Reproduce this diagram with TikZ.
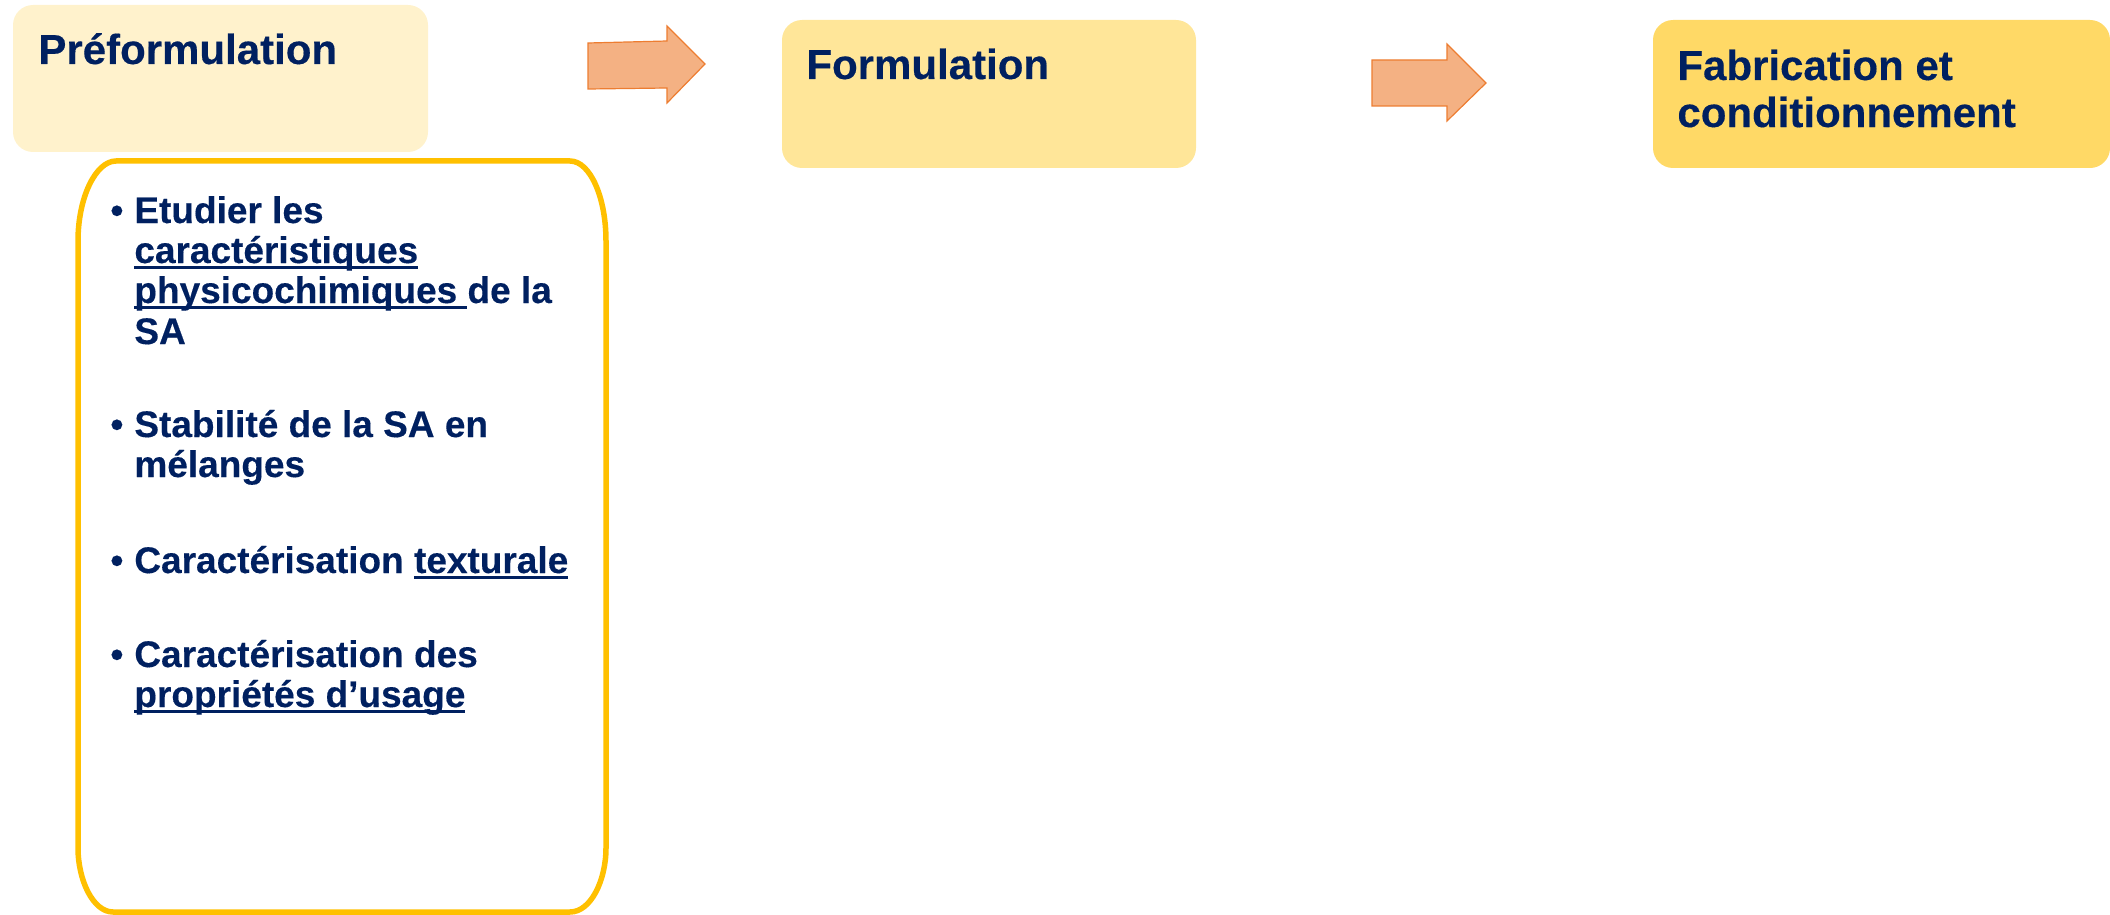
\documentclass[tikz,border=0pt]{standalone}
\usepackage{fontspec}
\setmainfont{Liberation Sans}[BoldFeatures={FakeBold=0.3}]
\definecolor{navy}{HTML}{002060}
\definecolor{boxA}{HTML}{FFF2CC}
\definecolor{boxB}{HTML}{FFE699}
\definecolor{boxC}{HTML}{FFD966}
\definecolor{frameY}{HTML}{FFC000}
\definecolor{arrowFill}{HTML}{F4B183}
\definecolor{arrowLine}{HTML}{ED7D31}
\newcommand{\ulx}[1]{{\setbox0\hbox{#1}\rlap{\rule[-0.17em]{\wd0}{0.1em}}\box0}}
\newcommand{\bul}{\llap{\textbullet\hspace{5.5pt}}}
\tikzset{
  titlebox/.style={rounded corners=10pt, draw=none},
  titletext/.style={inner sep=0pt, anchor=base west, text=navy, font=\fontsize{21}{23.5}\selectfont\bfseries, align=left},
  itemtext/.style={inner sep=0pt, anchor=base west, text=navy, font=\fontsize{18.5}{20.2}\selectfont\bfseries},
  flowarrow/.style={fill=arrowFill, draw=arrowLine, line width=0.6pt, line join=miter}
}
\begin{document}
\begin{tikzpicture}[x=0.5pt,y=-0.5pt]
\useasboundingbox (0,0) rectangle (2110,915);
% title boxes
\fill[boxA, titlebox] (13,5) rectangle (428,152);
\fill[boxB, titlebox] (782,20) rectangle (1196,168);
\fill[boxC, titlebox] (1653,20) rectangle (2110,168);
% titles
\node[titletext] (pre) at (38,64) {Préformulation};
\node[titletext] (form) at (806,79) {Formulation};
\node[titletext] (fab1) at (1677,80) {Fabrication et};
\node[titletext] (fab2) at (1677,127) {conditionnement};
% arrows
\draw[flowarrow] (588,43) -- (667,41) -- (667,26) -- (705,64) -- (667,103) -- (667,88) -- (588,89) -- cycle;
\draw[flowarrow] (1372,60) -- (1447,60) -- (1447,44) -- (1486,83) -- (1447,121) -- (1447,106) -- (1372,106) -- cycle;
% tall frame
\draw[frameY, line width=2.75pt]
  (116,161) -- (570,161)
  .. controls (590,161) and (606,197) .. (606,241)
  -- (606,848)
  .. controls (606,880) and (591,912) .. (570,912)
  -- (113,912)
  .. controls (93,912) and (78,880) .. (78,848)
  -- (78,241)
  .. controls (78,197) and (96,161) .. cycle;
% items
\node[itemtext] (i1a) at (134,223) {\bul Etudier les};
\node[itemtext] (i1b) at (134,263) {\ulx{caractéristiques}};
\node[itemtext] (i1c) at (134,303) {\ulx{physicochimiques }de la};
\node[itemtext] (i1d) at (134,344) {SA};
\node[itemtext] (i2a) at (134,437) {\bul Stabilité de la SA en};
\node[itemtext] (i2b) at (134,477) {mélanges};
\node[itemtext] (i3a) at (134,573) {\bul Caractérisation \ulx{texturale}};
\node[itemtext] (i4a) at (134,667) {\bul Caractérisation des};
\node[itemtext] (i4b) at (134,707) {\ulx{propriétés d’usage}};
\end{tikzpicture}
\end{document}
